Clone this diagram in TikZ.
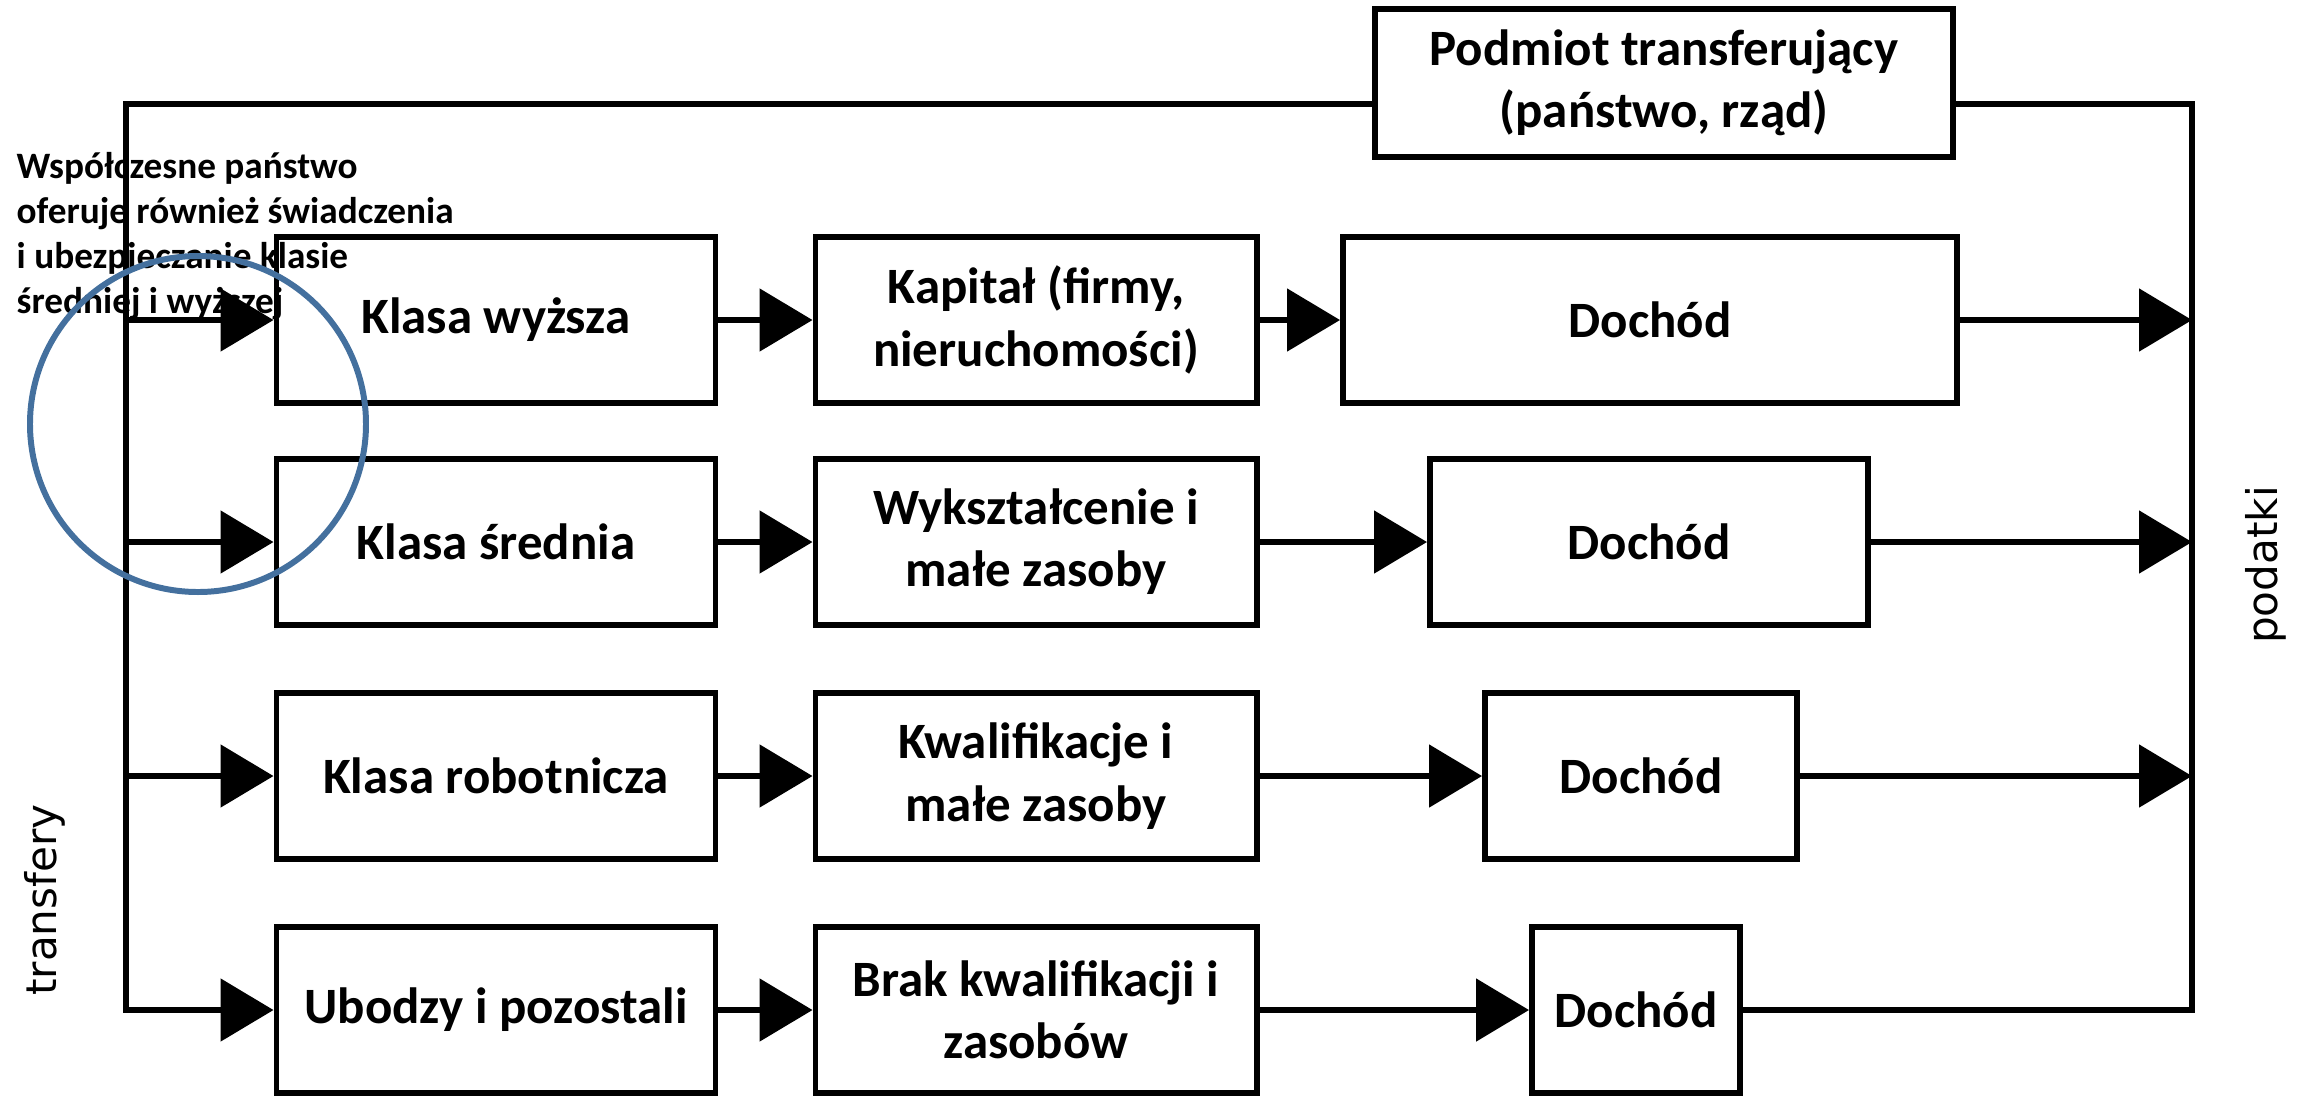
\documentclass[tikz,border=0pt]{standalone}
\usepackage{fontspec}
\setmainfont{Carlito}
\newfontfamily\sidefont{DejaVu Sans}
\usetikzlibrary{positioning, arrows.meta}
\definecolor{ringblue}{RGB}{68,112,158}

\begin{document}
\begin{tikzpicture}[node distance=2.3cm, on grid,
    box/.style={draw, line width=1.7pt, minimum height=1.66cm, align=center,
        inner sep=2pt, font=\bfseries\fontsize{14.5}{17.7}\selectfont},
    flow/.style={line width=1.5pt, -{Triangle[length=0.53cm,width=0.62cm]}},
    wire/.style={line width=1.5pt}]
\useasboundingbox (0,0) rectangle (23.03,-10.96);

\node[box, minimum width=4.39cm] (kw)   at (4.96,-3.20)      {Klasa wyższa};
\node[box, minimum width=4.39cm] (ks)   [below = 2.22cm of kw] {Klasa średnia};
\node[box, minimum width=4.39cm] (kr)   [below = 2.34cm of ks] {Klasa robotnicza};
\node[box, minimum width=4.39cm] (ub)   [below = 2.34cm of kr] {Ubodzy i pozostali};
\node[box, minimum width=4.41cm] (kap)  [right = 5.40cm of kw] {Kapitał (firmy,\\nieruchomości)};
\node[box, minimum width=4.41cm] (wyk)  [right = 5.40cm of ks] {Wykształcenie i\\małe zasoby};
\node[box, minimum width=4.41cm] (kwal) [right = 5.40cm of kr] {Kwalifikacje i\\małe zasoby};
\node[box, minimum width=4.41cm] (brak) [right = 5.40cm of ub] {Brak kwalifikacji i\\zasobów};
\node[box, minimum width=6.14cm] (d1)   [right = 6.14cm of kap]  {Dochód};
\node[box, minimum width=4.38cm] (d2)   [right = 6.13cm of wyk]  {Dochód};
\node[box, minimum width=3.12cm] (d3)   [right = 6.05cm of kwal] {Dochód};
\node[box, minimum width=2.08cm] (d4)   [right = 6.00cm of brak] {Dochód};
\node[box, minimum width=5.78cm, minimum height=1.48cm] (pod) at (16.64,-0.83)
    {Podmiot transferujący\\(państwo, rząd)};

\coordinate (tl) at (1.26,-1.04);
\coordinate (tr) at (21.92,-1.04);
\coordinate (in1) at (tl |- kw);
\coordinate (in2) at (tl |- ks);
\coordinate (in3) at (tl |- kr);
\coordinate (out1) at (tr |- d1);
\coordinate (out2) at (tr |- d2);
\coordinate (out3) at (tr |- d3);

% transfery na lewo, podatki na prawo
\draw[flow] (pod.west |- tl) -- (tl) -- (tl |- ub) -- (ub);
\draw[wire] (pod.east |- tr) -- (tr) -- (tr |- d4) -- (d4);
\path[flow]
    (in1)  edge (kw)
    (in2)  edge (ks)
    (in3)  edge (kr)
    (kw)   edge (kap)
    (kap)  edge (d1)
    (ks)   edge (wyk)
    (wyk)  edge (d2)
    (kr)   edge (kwal)
    (kwal) edge (d3)
    (ub)   edge (brak)
    (brak) edge (d4)
    (d1)   edge (out1)
    (d2)   edge (out2)
    (d3)   edge (out3);

\node[anchor=base west, align=left, inner sep=0pt,
    font=\bfseries\fontsize{10.6}{12.8}\selectfont] (note) at (0.16,-3.13)
    {Współczesne państwo\\oferuje również świadczenia\\i ubezpieczanie klasie\\średniej i wyższej};
\node[draw=ringblue, line width=1.7pt, circle, minimum size=3.36cm] (ring) at (1.98,-4.24) {};

\node[rotate=90, font=\sidefont\fontsize{12}{14}\selectfont] (transf) at (0.45,-9.00) {transfery};
\node[rotate=90, font=\sidefont\fontsize{12}{14}\selectfont] (tax) at (22.66,-5.65) {podatki};
\end{tikzpicture}
\end{document}
